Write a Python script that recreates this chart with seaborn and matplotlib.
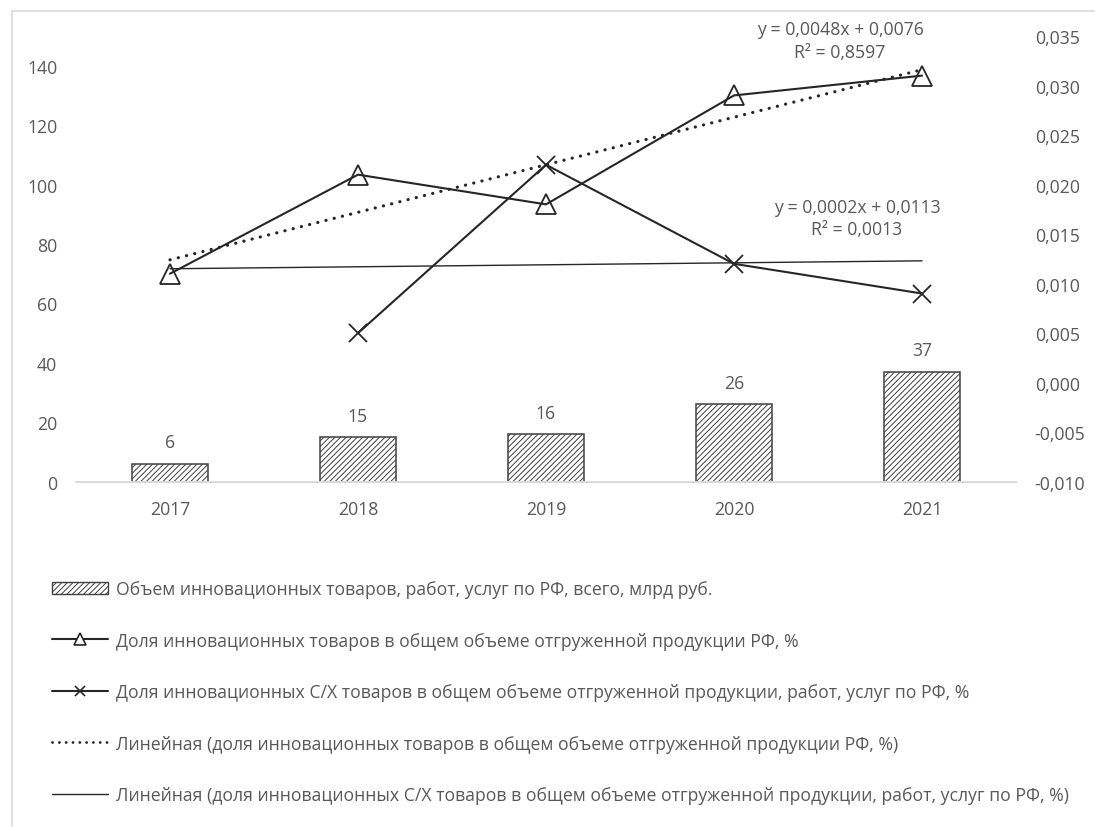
import numpy as np
import pandas as pd
import matplotlib
matplotlib.use("Agg")
import matplotlib.pyplot as plt
import seaborn as sns
from matplotlib.patches import Patch, Rectangle
from matplotlib.lines import Line2D

# ---- data -------------------------------------------------------------
years = ["2017", "2018", "2019", "2020", "2021"]
volume = [6, 15, 16, 26, 37]                       # млрд руб.
share_all = [0.011, 0.021, 0.018, 0.029, 0.031]    # доля инновационных товаров, %
agri_years = ["2018", "2019", "2020", "2021"]
share_agri = [0.005, 0.022, 0.012, 0.009]          # доля инновационных С/Х товаров, %

left_ticks = [0, 20, 40, 60, 80, 100, 120, 140]
right_ticks = [-0.010, -0.005, 0.000, 0.005, 0.010, 0.015, 0.020, 0.025, 0.030, 0.035]

legend_labels = [
    "Объем инновационных товаров, работ, услуг по РФ, всего, млрд руб.",
    "Доля инновационных товаров в общем объеме отгруженной продукции РФ, %",
    "Доля инновационных С/Х товаров в общем объеме отгруженной продукции, работ, услуг по РФ, %",
    "Линейная (доля инновационных товаров в общем объеме отгруженной продукции РФ, %)",
    "Линейная (доля инновационных С/Х товаров в общем объеме отгруженной продукции, работ, услуг по РФ, %)",
]

# ---- style ------------------------------------------------------------
sns.set_theme(style="white")
plt.rcParams["font.family"] = ["Open Sans", "DejaVu Sans"]
plt.rcParams["hatch.linewidth"] = 0.7

TEXT = "#595959"
INK = "#262626"
BAR_EDGE = "#404040"
AXIS_GREY = "#d9d9d9"
FS = 12.7

W, H = 1095, 828
fig = plt.figure(figsize=(W / 100, H / 100), dpi=100)
ax = fig.add_axes([76 / W, (H - 482.7) / H, 940 / W, 445.7 / H])
ax2 = ax.twinx()

# ---- bars (left axis) ---------------------------------------------------
bars_df = pd.DataFrame({"year": years, "volume": volume})
sns.barplot(data=bars_df, x="year", y="volume", ax=ax, color="white",
            edgecolor=BAR_EDGE, linewidth=1.1, width=0.4, hatch="//////",
            errorbar=None, zorder=2)
ax.bar_label(ax.containers[0], labels=[str(v) for v in volume],
             padding=9, color=TEXT, fontsize=FS)

ax.set_xlim(-0.5, len(years) - 0.5)
ax.set_ylim(0, 150)
ax.set_yticks(left_ticks)
ax.set_xlabel("")
ax.set_ylabel("")
ax.tick_params(axis="both", length=0, labelsize=FS, labelcolor=TEXT)
ax.tick_params(axis="y", pad=13.5)
ax.tick_params(axis="x", pad=13.5)
for side in ("left", "right", "top"):
    ax.spines[side].set_visible(False)
ax.spines["bottom"].set_color(AXIS_GREY)
ax.spines["bottom"].set_linewidth(1.4)

# ---- shares (right axis) ------------------------------------------------
pos = {y: i for i, y in enumerate(years)}
x_all = np.array([pos[y] for y in years])
x_agri = np.array([pos[y] for y in agri_years])

sns.lineplot(x=x_all, y=share_all, ax=ax2, color=INK, linewidth=1.5,
             marker="^", markersize=14.5, markerfacecolor="none",
             markeredgecolor=INK, markeredgewidth=1.3, zorder=4)
sns.lineplot(x=x_agri, y=share_agri, ax=ax2, color=INK, linewidth=1.5,
             marker="x", markersize=12.5, markeredgecolor=INK,
             markeredgewidth=1.3, zorder=4)

# linear trends, x counted 1..n from the first year
def linear_trend(xs, ys):
    xs = np.asarray(xs, float) + 1
    ys = np.asarray(ys, float)
    slope, intercept = np.polyfit(xs, ys, 1)
    fit = slope * xs + intercept
    r2 = 1 - np.sum((ys - fit) ** 2) / np.sum((ys - ys.mean()) ** 2)
    return slope, intercept, r2

def fmt(v):
    return f"{v:.4f}".replace(".", ",")

s1, b1, r1 = linear_trend(x_all, share_all)
s2, b2, r2 = linear_trend(x_agri, share_agri)
x_span = np.array([x_all[0], x_all[-1]])

sns.lineplot(x=x_span, y=s1 * (x_span + 1) + b1, ax=ax2, color=INK,
             linewidth=2.3, linestyle=(0, (0.05, 2.6)),
             dash_capstyle="round", zorder=3)
sns.lineplot(x=x_span, y=s2 * (x_span + 1) + b2, ax=ax2, color=INK,
             linewidth=1.0, zorder=3)

ax2.text(3.564, 0.03454, f"y = {fmt(s1)}x + {fmt(b1)}\nR² = {fmt(r1)}",
         ha="center", va="center", fontsize=FS, color=TEXT, linespacing=1.3)
ax2.text(3.654, 0.01665, f"y = {fmt(s2)}x + {fmt(b2)}\nR² = {fmt(r2)}",
         ha="center", va="center", fontsize=FS, color=TEXT, linespacing=1.3)

ax2.set_ylim(-0.010, 0.035)
ax2.set_yticks(right_ticks)
ax2.set_yticklabels([f"{t:.3f}".replace(".", ",").replace("-0,000", "0,000")
                     for t in right_ticks])
ax2.tick_params(axis="y", length=0, labelsize=FS, labelcolor=TEXT, pad=13.5)
for side in ax2.spines:
    ax2.spines[side].set_visible(False)
ax2.grid(False)
ax.grid(False)

# ---- legend -------------------------------------------------------------
handles = [
    Patch(facecolor="white", edgecolor=BAR_EDGE, hatch="//////", linewidth=1.0),
    Line2D([], [], color=INK, linewidth=1.5, marker="^", markersize=8,
           markerfacecolor="white", markeredgecolor=INK, markeredgewidth=1.2),
    Line2D([], [], color=INK, linewidth=1.5, marker="x", markersize=7.5,
           markeredgecolor=INK, markeredgewidth=1.2),
    Line2D([], [], color=INK, linewidth=2.0, linestyle=(0, (0.05, 2.4)),
           dash_capstyle="round"),
    Line2D([], [], color=INK, linewidth=1.0),
]
fig.legend(handles, legend_labels, loc="upper left",
           bbox_to_anchor=(52 / W, 1 - 581 / H), frameon=False,
           fontsize=FS, labelcolor=TEXT, handlelength=3.2,
           handletextpad=0.4, labelspacing=1.9, borderpad=0,
           borderaxespad=0)

# ---- outer chart frame --------------------------------------------------
fig.patches.append(Rectangle((12 / W, -0.1), 1.2, 1.1 - 12 / H,
                             transform=fig.transFigure, fill=False,
                             edgecolor=AXIS_GREY, linewidth=1.2))

fig.savefig("out.png", dpi=100)
